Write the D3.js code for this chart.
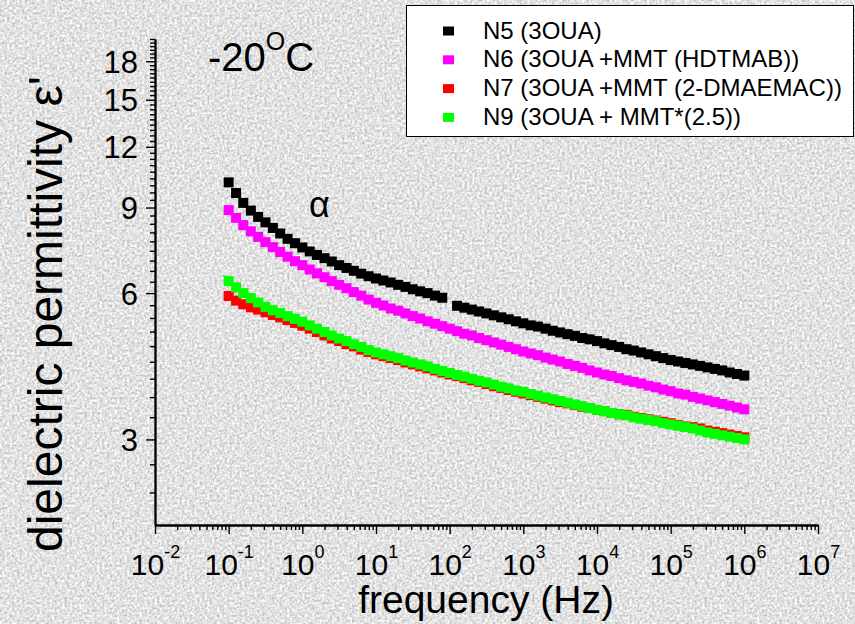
<!DOCTYPE html>
<html>
<head>
<meta charset="utf-8">
<script src="https://cdn.jsdelivr.net/npm/d3@7"></script>
<style>
body { margin: 0; }
svg { display: block; }
text { font-family: "Liberation Sans", Arial, sans-serif; fill: #000; }
</style>
</head>
<body>
<div id="chart"></div>
<script>
// frequencies (Hz), 10 points per decade
var freq = [0.1, 0.126, 0.158, 0.2, 0.251, 0.316, 0.398, 0.501, 0.631, 0.794,
  1, 1.26, 1.58, 2, 2.51, 3.16, 3.98, 5.01, 6.31, 7.94,
  10, 12.6, 15.8, 20, 25.1, 31.6, 39.8, 50.1, 63.1, 79.4,
  100, 126, 158, 200, 251, 316, 398, 501, 631, 794,
  1e3, 1.26e3, 1.58e3, 2e3, 2.51e3, 3.16e3, 3.98e3, 5.01e3, 6.31e3, 7.94e3,
  1e4, 1.26e4, 1.58e4, 2e4, 2.51e4, 3.16e4, 3.98e4, 5.01e4, 6.31e4, 7.94e4,
  1e5, 1.26e5, 1.58e5, 2e5, 2.51e5, 3.16e5, 3.98e5, 5.01e5, 6.31e5, 7.94e5,
  1e6]

var n5 = [10.14, 9.64, 9.20, 8.87, 8.61, 8.39, 8.17, 7.96, 7.76, 7.60,
  7.45, 7.31, 7.19, 7.08, 6.97, 6.85, 6.76, 6.67, 6.58, 6.50,
  6.43, 6.37, 6.31, 6.24, 6.18, 6.11, 6.05, 6.00, 5.93, 5.87,
  null, 5.65, 5.60, 5.55, 5.50, 5.45, 5.40, 5.35, 5.30, 5.25,
  5.20, 5.15, 5.12, 5.07, 5.02, 4.98, 4.94, 4.90, 4.85, 4.82,
  4.78, 4.73, 4.69, 4.65, 4.60, 4.57, 4.53, 4.49, 4.45, 4.41,
  4.37, 4.34, 4.31, 4.28, 4.25, 4.22, 4.19, 4.16, 4.12, 4.09,
  4.06]

var n6 = [8.89, 8.57, 8.28, 8.04, 7.83, 7.64, 7.46, 7.29, 7.13, 6.98,
  6.85, 6.71, 6.59, 6.47, 6.35, 6.24, 6.14, 6.03, 5.93, 5.82,
  5.73, 5.66, 5.58, 5.52, 5.45, 5.38, 5.32, 5.25, 5.19, 5.13,
  5.07, 5.01, 4.95, 4.91, 4.85, 4.80, 4.75, 4.70, 4.65, 4.60,
  4.55, 4.51, 4.47, 4.42, 4.38, 4.34, 4.29, 4.25, 4.21, 4.16,
  4.12, 4.08, 4.05, 4.01, 3.97, 3.94, 3.91, 3.87, 3.84, 3.80,
  3.77, 3.73, 3.71, 3.67, 3.64, 3.61, 3.58, 3.55, 3.52, 3.49,
  3.46]

var n7 = [5.92, 5.79, 5.69, 5.61, 5.55, 5.48, 5.41, 5.35, 5.28, 5.21,
  5.14, 5.07, 4.99, 4.91, 4.84, 4.78, 4.71, 4.66, 4.59, 4.54,
  4.49, 4.45, 4.41, 4.37, 4.32, 4.28, 4.24, 4.20, 4.16, 4.12,
  4.08, 4.05, 4.01, 3.97, 3.94, 3.90, 3.86, 3.83, 3.79, 3.76,
  3.73, 3.70, 3.67, 3.64, 3.61, 3.58, 3.56, 3.53, 3.50, 3.48,
  3.45, 3.43, 3.40, 3.38, 3.37, 3.34, 3.32, 3.30, 3.28, 3.26,
  3.24, 3.21, 3.19, 3.18, 3.16, 3.13, 3.11, 3.09, 3.07, 3.05,
  3.03]

var n9 = [6.35, 6.17, 6.00, 5.86, 5.74, 5.62, 5.53, 5.46, 5.38, 5.31,
  5.24, 5.15, 5.07, 4.99, 4.91, 4.84, 4.78, 4.71, 4.65, 4.58,
  4.53, 4.49, 4.45, 4.41, 4.36, 4.32, 4.28, 4.24, 4.19, 4.15,
  4.11, 4.07, 4.04, 4.00, 3.96, 3.93, 3.89, 3.85, 3.82, 3.78,
  3.76, 3.72, 3.69, 3.66, 3.63, 3.60, 3.57, 3.54, 3.51, 3.48,
  3.45, 3.43, 3.40, 3.38, 3.36, 3.33, 3.31, 3.29, 3.27, 3.24,
  3.22, 3.20, 3.18, 3.16, 3.13, 3.10, 3.08, 3.06, 3.04, 3.02,
  3.00]

var seriesNames = ["N5 (3OUA)", "N6 (3OUA +MMT (HDTMAB))", "N7 (3OUA +MMT (2-DMAEMAC))", "N9 (3OUA + MMT*(2.5))"]
var seriesColors = ["#000000", "#ff00ff", "#ff0000", "#00ff00"]
var seriesValues = [n5, n6, n7, n9]

var xExponents = [-2, -1, 0, 1, 2, 3, 4, 5, 6, 7]
var yTicks = [3, 6, 9, 12, 15, 18]

var width = 855, height = 624

var svg = d3.select("#chart")
  .append("svg")
  .attr("width", width)
  .attr("height", height)

// grey speckled background
var filter = svg.append("defs").append("filter")
  .attr("id", "grain")
  .attr("x", 0).attr("y", 0).attr("width", "100%").attr("height", "100%")
  .attr("color-interpolation-filters", "sRGB")
filter.append("feTurbulence")
  .attr("type", "fractalNoise")
  .attr("baseFrequency", 0.4)
  .attr("numOctaves", 2)
  .attr("seed", 4)
filter.append("feColorMatrix")
  .attr("type", "matrix")
  .attr("values", "0.45 0 0 0 0.66  0.45 0 0 0 0.66  0.45 0 0 0 0.66  0 0 0 0 1")

svg.append("rect")
  .attr("width", width)
  .attr("height", height)
  .attr("fill", "#dedede")
  .attr("filter", "url(#grain)")

var x = d3.scaleLog().domain([1e-2, 1e7]).range([155, 818])
var y = d3.scaleLog().domain([2, 20]).range([525, 39])

// tick positions
var xMajor = xExponents.map(e => Math.pow(10, e))
var xMinor = []
for (var e = -2; e < 7; e++) {
  for (var m = 2; m <= 9; m++) xMinor.push(m * Math.pow(10, e))
}
var yMinor = d3.range(7, 61).filter(k => k % 9 != 0).map(k => k / 3)

function styleAxis(g) {
  g.select(".domain").attr("stroke-width", 1.8)
  g.selectAll(".tick line").attr("stroke-width", 1.4)
}

//X axis
svg.append("g")
  .attr("transform", "translate(0,525)")
  .call(d3.axisBottom(x).tickValues(xMinor).tickSize(5).tickSizeOuter(0).tickFormat(""))
  .call(styleAxis)

var gxMajor = svg.append("g")
  .attr("transform", "translate(0,525)")
  .call(d3.axisBottom(x).tickValues(xMajor).tickSize(9).tickSizeOuter(0).tickFormat(""))
  .call(styleAxis)

gxMajor.selectAll(".tick").append("text")
  .attr("y", 50)
  .attr("text-anchor", "middle")
  .each(function(d) {
    var t = d3.select(this)
    t.append("tspan").attr("font-size", 30).text("10")
    t.append("tspan").attr("font-size", 18).attr("dy", -17).text(Math.round(Math.log10(d)))
  })

//Y axis
svg.append("g")
  .attr("transform", "translate(155,0)")
  .call(d3.axisLeft(y).tickValues(yMinor).tickSize(5).tickSizeOuter(0).tickFormat(""))
  .call(styleAxis)

svg.append("g")
  .attr("transform", "translate(155,0)")
  .call(d3.axisLeft(y).tickValues(yTicks).tickSize(9).tickSizeOuter(0).tickFormat(d => d))
  .call(styleAxis)
  .call(g => g.selectAll(".tick text")
    .attr("x", -17)
    .attr("dy", "0.36em")
    .attr("font-size", 31)
    .attr("font-family", "Liberation Sans, Arial, sans-serif")
    .attr("fill", "#000"))

// Axis titles
svg.append("text")
  .attr("x", 486)
  .attr("y", 613)
  .attr("text-anchor", "middle")
  .attr("font-size", 39)
  .text("frequency (Hz)")

svg.append("text")
  .attr("transform", "translate(62,314) rotate(-90)")
  .attr("text-anchor", "middle")
  .attr("font-size", 48)
  .text("dielectric permittivity \u03b5'")

// temperature and alpha labels
var temp = svg.append("text")
  .attr("x", 208)
  .attr("y", 71)
  .attr("font-size", 40)
temp.append("tspan").text("-20")
temp.append("tspan").attr("font-size", 25).attr("dy", -21).text("O")
temp.append("tspan").attr("dy", 21).text("C")

svg.append("text")
  .attr("x", 309)
  .attr("y", 217)
  .attr("font-size", 36)
  .text("\u03b1")

// data markers
seriesValues.forEach(function(vals, s) {
  var pts = freq.map((f, i) => ({ f: f, v: vals[i] })).filter(d => d.v != null)
  svg.append("g")
    .selectAll("rect")
    .data(pts)
    .enter().append("rect")
    .attr("x", d => x(d.f) - 5)
    .attr("y", d => y(d.v) - 5)
    .attr("width", 10)
    .attr("height", 10)
    .attr("fill", seriesColors[s])
})

// legend
var legend = svg.append("g")
legend.append("rect")
  .attr("x", 406.5)
  .attr("y", 5.5)
  .attr("width", 447)
  .attr("height", 131)
  .attr("fill", "#fff")
  .attr("stroke", "#000")
  .attr("stroke-width", 1)

seriesNames.forEach(function(name, i) {
  var yy = 38.5 + i * 28.8
  legend.append("rect")
    .attr("x", 443)
    .attr("y", yy - 12)
    .attr("width", 11)
    .attr("height", 9)
    .attr("fill", seriesColors[i])
  legend.append("text")
    .attr("x", 483)
    .attr("y", yy)
    .attr("font-size", 24)
    .text(name)
})
</script>
</body>
</html>
